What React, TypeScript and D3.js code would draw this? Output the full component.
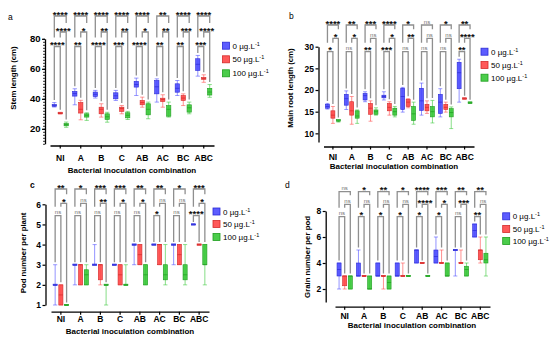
import { useRef, useEffect } from 'react';
import * as d3 from 'd3';

type Stat = [number, number, number, number, number]; // min, q1, median, q3, max

const FONT = '"Liberation Sans", Arial, Helvetica, sans-serif';

const categories = ['NI', 'A', 'B', 'C', 'AB', 'AC', 'BC', 'ABC'];
const doses = ['0', '50', '100'];
const doseColors = ['#4b4bff', '#ff4747', '#37c837'];
const doseDark = ['#2b2bd6', '#d42a2a', '#1f9e1f'];

// a: stem length (cm)
const stem0: Stat[] = [
  [34.5, 35, 35.6, 36.2, 37.5],
  [36, 41.8, 43.5, 44.9, 46.7],
  [40.5, 41.5, 43, 44.5, 45.6],
  [38.9, 40, 42, 44, 45.6],
  [42.2, 47.8, 49.5, 51.6, 53.8],
  [37.8, 43.3, 48, 52.2, 53.3],
  [42.2, 44.4, 47, 50, 52.2],
  [55.1, 58.9, 63, 66.7, 68.9],
];
const stem50: Stat[] = [
  [29.8, 30, 30.2, 30.5, 31],
  [26, 30.5, 33, 37.5, 39],
  [27.8, 30, 33, 34.4, 36.7],
  [30, 31.6, 33.5, 34.4, 35.5],
  [34.4, 36, 37.5, 38.9, 41.1],
  [34.4, 38.2, 39.5, 40.4, 42.7],
  [35.5, 38.9, 40.5, 42.2, 43.3],
  [51, 53, 53.6, 54.2, 56],
];
const stem100: Stat[] = [
  [21, 22, 22.8, 23.5, 24.5],
  [25.6, 27.8, 29, 30, 30.7],
  [24.4, 26.2, 28, 30, 31],
  [26.2, 27.3, 29, 30.7, 31.6],
  [26.7, 29.3, 33, 36.7, 37.8],
  [27.8, 28.4, 33, 35.5, 37.8],
  [30, 31.1, 34, 36, 37.8],
  [41, 42.5, 44.5, 47, 49.5],
];
const stemSig0v100 = ['****', '****', '****', '****', '****', '**', '****', '****'];
const stemSig50v100 = ['****', '*', '**', '**', '*', '**', '***', '****'];
const stemSig0v50 = ['****', '**', '****', '***', '****', '**', '**', '***'];

// b: main root length (cm)
const root0: Stat[] = [
  [15.6, 15.8, 16.2, 16.7, 16.9],
  [15.5, 16.5, 18, 19, 19.8],
  [17.3, 17.7, 18.7, 19.2, 19.6],
  [17.7, 18.2, 18.5, 18.8, 19.6],
  [14.9, 15.5, 18.5, 20.4, 20.6],
  [14.2, 15.3, 17.5, 20.4, 21.6],
  [13.8, 14.6, 17.2, 19, 20.3],
  [17.2, 20.3, 24, 26.4, 27.1],
];
const root50: Stat[] = [
  [12.3, 13.5, 14.2, 15.2, 16.2],
  [12.1, 14.2, 15.2, 17.3, 18.5],
  [12.8, 14.4, 15.8, 16.9, 17.5],
  [14.2, 15.2, 16, 16.9, 17.3],
  [15.9, 16.2, 17.2, 17.8, 18],
  [14.6, 15.2, 16, 16.7, 17.5],
  [14.9, 15.5, 16, 16.7, 17.2],
  [17.9, 17.95, 18, 18.05, 18.1],
];
const root100: Stat[] = [
  [12.6, 12.7, 12.8, 13, 13.1],
  [12.3, 13.5, 14, 15.2, 15.4],
  [14.2, 14.4, 15, 15.4, 15.9],
  [13.8, 14.2, 15, 15.8, 16.2],
  [12.1, 13, 14.5, 16.2, 17.2],
  [12.4, 13.8, 15, 16.2, 17.6],
  [11.1, 13.8, 14.8, 15.7, 16.1],
  [16.9, 17, 17.05, 17.1, 17.2],
];
const rootSig0v100 = ['****', '**', '***', '****', '*', 'ns', '*', '**'];
const rootSig50v100 = ['*', '*', 'ns', '*', '**', 'ns', 'ns', '****'];
const rootSig0v50 = ['*', 'ns', '**', '***', 'ns', 'ns', 'ns', '**'];

// c: pod number per plant
const pod0: Stat[] = [
  [1, 2, 2, 2, 3],
  [2, 3, 3, 3, 3],
  [3, 3, 3, 3, 4],
  [3, 3, 3, 3, 3],
  [3, 4, 4, 4, 4],
  [4, 4, 4, 4, 4],
  [3, 4, 4, 4, 4],
  [5, 5, 5, 5, 5],
];
const pod50: Stat[] = [
  [1, 1, 1.5, 2, 2],
  [2, 2, 3, 3, 3],
  [2, 2.25, 3, 3, 3],
  [2, 2, 2.5, 3, 3],
  [3, 3, 3.5, 4, 4],
  [3, 3, 4, 4, 4],
  [3, 3, 3.5, 4, 4],
  [4, 4, 4, 4, 4],
];
const pod100: Stat[] = [
  [1, 1, 1, 1, 1],
  [2, 2, 2.5, 2.75, 3],
  [1, 2, 2, 2, 2],
  [2, 2, 2, 2, 3],
  [2, 2, 2.5, 3, 3],
  [2, 2.25, 2.5, 3, 4],
  [2, 2.25, 2.5, 3, 4],
  [2, 3, 3, 4, 4],
];
const podSig0v100 = ['**', '*', '***', '***', '**', '**', '*', '***'];
const podSig50v100 = ['*', 'ns', '**', '*', '*', 'ns', 'ns', '*'];
const podSig0v50 = ['ns', 'ns', 'ns', 'ns', 'ns', '*', 'ns', '****'];

// d: grain number per pod
const grain0: Stat[] = [
  [2, 3, 3.5, 4, 4],
  [3, 3, 3, 4, 5],
  [3, 3, 3, 4, 4],
  [3, 3, 3, 4, 4],
  [4, 4, 5, 5, 5],
  [4, 4, 4.5, 5, 6],
  [3, 5, 5, 5, 5],
  [6, 6, 6.5, 7, 7],
];
const grain50: Stat[] = [
  [2, 2.25, 3, 3, 3],
  [3, 3, 3, 3, 3],
  [2, 3, 3, 3, 3],
  [3, 3, 3, 3, 4],
  [4, 4, 4, 4, 4],
  [4, 4, 4, 4, 5],
  [4, 4, 4, 4, 5],
  [4, 4.25, 5, 5, 6],
];
const grain100: Stat[] = [
  [2, 2, 3, 3, 3],
  [2, 2, 2, 3, 3],
  [2, 2, 2.5, 3, 3],
  [3, 3, 3, 3, 3],
  [3, 3, 3, 3, 3],
  [3, 3, 3, 4, 4],
  [3, 3, 3.5, 3.75, 4],
  [3, 4, 4.25, 4.75, 6],
];
const grainSig0v100 = ['ns', '*', '**', '*', '****', '***', '**', '**'];
const grainSig50v100 = ['ns', 'ns', 'ns', 'ns', '****', '*', '***', 'ns'];
const grainSig0v50 = ['ns', '*', '*', '*', '*', '*', 'ns', '**'];

const xTitle = 'Bacterial inoculation combination';

interface PanelSpec {
  letter: string;
  letterPos: [number, number];
  yTitle: string;
  yTitlePos: [number, number];
  stats: Stat[][];
  sig: string[][];
  domain: [number, number];
  ticks: number[];
  minor?: number[];
  axisX: number;
  yTop: number;
  yBottom: number;
  baseY: number;
  x0: number;
  x1: number;
  catY: number;
  xTitlePos: [number, number];
  levels: [number, number, number];
  legX: number;
  legY: number[];
  tickFont: number;
}

const panelSpecs: PanelSpec[] = [
  {
    letter: 'a', letterPos: [8, 20],
    yTitle: 'Stem length (cm)', yTitlePos: [16, 78],
    stats: [stem0, stem50, stem100],
    sig: [stemSig0v100, stemSig50v100, stemSig0v50],
    domain: [10, 80], ticks: [20, 40, 60, 80], minor: d3.range(10, 81, 2),
    axisX: 45, yTop: 38.8, yBottom: 143.8,
    baseY: 145.5, x0: 50, x1: 214, catY: 161, xTitlePos: [132, 173],
    levels: [16, 32, 46.5],
    legX: 222.5, legY: [45.7, 59.3, 73.3], tickFont: 9.5,
  },
  {
    letter: 'b', letterPos: [289, 19],
    yTitle: 'Main root length (cm)', yTitlePos: [293, 88],
    stats: [root0, root50, root100],
    sig: [rootSig0v100, rootSig50v100, rootSig0v50],
    domain: [8, 30], ticks: [10, 15, 20, 25, 30],
    axisX: 318.5, yTop: 46.7, yBottom: 142,
    baseY: 146.5, x0: 323.5, x1: 474, catY: 159.5, xTitlePos: [394, 168.5],
    levels: [25, 38.3, 51.7],
    legX: 481, legY: [51.7, 65, 77.7], tickFont: 8.5,
  },
  {
    letter: 'c', letterPos: [30, 188],
    yTitle: 'Pod number per plant', yTitlePos: [25.5, 253],
    stats: [pod0, pod50, pod100],
    sig: [podSig0v100, podSig50v100, podSig0v50],
    domain: [1, 6], ticks: [1, 2, 3, 4, 5, 6],
    axisX: 45.5, yTop: 204.3, yBottom: 305,
    baseY: 311.7, x0: 51, x1: 209, catY: 321.5, xTitlePos: [130, 333.5],
    levels: [189, 203.3, 215.7],
    legX: 213, legY: [211.5, 224, 237], tickFont: 8.5,
  },
  {
    letter: 'd', letterPos: [285, 188],
    yTitle: 'Grain number per pod', yTitlePos: [309.5, 257],
    stats: [grain0, grain50, grain100],
    sig: [grainSig0v100, grainSig50v100, grainSig0v50],
    domain: [1, 8], ticks: [2, 4, 6, 8],
    axisX: 325.7, yTop: 211, yBottom: 302,
    baseY: 306.7, x0: 335, x1: 490, catY: 319, xTitlePos: [412, 328],
    levels: [191.7, 204.3, 216.7],
    legX: 502.7, legY: [216.3, 229, 241], tickFont: 8.5,
  },
];

function drawPanel(svg: d3.Selection<SVGSVGElement, unknown, null, undefined>, p: PanelSpec) {
  const g = svg.append('g').attr('font-family', FONT);

  const y = d3.scaleLinear().domain(p.domain).range([p.yBottom, p.yTop]);
  const x = d3.scaleBand<string>().domain(categories).range([p.x0, p.x1]);
  const bw = x.bandwidth();
  const off = bw * 0.29;
  const boxW = bw * 0.21;
  const cx = (c: string, k: number) => (x(c) ?? 0) + bw / 2 + (k - 1) * off;

  // y 軸
  const yAxis = d3.axisLeft(y).tickValues(p.ticks).tickSize(3).tickSizeOuter(0)
    .tickPadding(1.5).tickFormat(d3.format('d'));
  const ya = g.append('g').attr('transform', `translate(${p.axisX},0)`).call(yAxis);
  ya.attr('font-family', FONT).attr('font-size', p.tickFont).attr('font-weight', 'bold');
  ya.selectAll('line').attr('stroke-width', 1.2);
  ya.select('.domain').attr('stroke-width', 1.3);
  if (p.minor) {
    const ym = g.append('g').attr('transform', `translate(${p.axisX},0)`)
      .call(d3.axisLeft(y).tickValues(p.minor).tickSize(2).tickSizeOuter(0).tickFormat(() => ''));
    ym.select('.domain').remove();
    ym.selectAll('line').attr('stroke-width', 0.8);
  }

  // x 軸
  const xa = g.append('g').attr('transform', `translate(0,${p.baseY})`)
    .call(d3.axisBottom(x).tickSize(3).tickSizeOuter(0).tickFormat(() => ''));
  xa.select('.domain').attr('stroke-width', 1.3);
  xa.selectAll('line').attr('stroke-width', 1.2);

  categories.forEach((c) => {
    g.append('text')
      .attr('x', cx(c, 1))
      .attr('y', p.catY)
      .attr('text-anchor', 'middle')
      .attr('font-size', 8.5)
      .attr('font-weight', 'bold')
      .text(c);
  });

  g.append('text')
    .attr('x', p.xTitlePos[0]).attr('y', p.xTitlePos[1])
    .attr('text-anchor', 'middle').attr('font-size', 8).attr('font-weight', 'bold')
    .text(xTitle);

  g.append('text')
    .attr('transform', `translate(${p.yTitlePos[0]},${p.yTitlePos[1]}) rotate(-90)`)
    .attr('text-anchor', 'middle').attr('font-size', 7.8).attr('font-weight', 'bold')
    .text(p.yTitle);

  g.append('text')
    .attr('x', p.letterPos[0]).attr('y', p.letterPos[1])
    .attr('font-size', 8.5).attr('font-weight', p.letter === 'c' ? 'bold' : 'normal')
    .text(p.letter);

  // 箱形圖
  p.stats.forEach((series, k) => {
    series.forEach((s, i) => {
      const c = categories[i];
      const xc = cx(c, k);
      const [mn, q1, md, q3, mx] = s;
      const col = doseColors[k];
      g.append('line')
        .attr('x1', xc).attr('x2', xc).attr('y1', y(mn)).attr('y2', y(mx))
        .attr('stroke', col).attr('stroke-opacity', 0.6).attr('stroke-width', 1);
      [mn, mx].forEach((v) => {
        g.append('line')
          .attr('x1', xc - boxW / 2).attr('x2', xc + boxW / 2).attr('y1', y(v)).attr('y2', y(v))
          .attr('stroke', col).attr('stroke-opacity', 0.7).attr('stroke-width', 0.8);
      });
      const top = y(q3);
      const h = Math.max(y(q1) - y(q3), 1.4);
      g.append('rect')
        .attr('x', xc - boxW / 2).attr('y', h === 1.4 ? top - 0.7 : top)
        .attr('width', boxW).attr('height', h)
        .attr('fill', col).attr('fill-opacity', 0.9)
        .attr('stroke', doseDark[k]).attr('stroke-width', 0.6);
      g.append('line')
        .attr('x1', xc - boxW / 2).attr('x2', xc + boxW / 2).attr('y1', y(md)).attr('y2', y(md))
        .attr('stroke', doseDark[k]).attr('stroke-width', 0.7);
    });
  });

  // 顯著性括號
  const [topL, midL, lowL] = p.levels;
  const gap = 2.5;
  const bracket = (xa: number, xb: number, yl: number, legA: number, legB: number, label: string) => {
    g.append('path')
      .attr('d', `M${xa},${legA}V${yl}H${xb}V${legB}`)
      .attr('fill', 'none')
      .attr('stroke', '#8f8f8f')
      .attr('stroke-width', 1.3);
    const ns = label === 'ns';
    g.append('text')
      .attr('x', (xa + xb) / 2)
      .attr('y', ns ? yl - 1.5 : yl + 1.5)
      .attr('text-anchor', 'middle')
      .attr('font-size', ns ? 6 : 9.5)
      .attr('font-weight', ns ? 'normal' : 'bold')
      .attr('fill', ns ? '#6f6f6f' : '#111')
      .text(label);
  };

  categories.forEach((c, i) => {
    const xb = cx(c, 0), xr = cx(c, 1), xg = cx(c, 2);
    const top0 = y(p.stats[0][i][4]) - gap;
    const top1 = y(p.stats[1][i][4]) - gap;
    const top2 = y(p.stats[2][i][4]) - gap;
    bracket(xb, xr, lowL, top0, top1, p.sig[2][i]);
    bracket(xr, xg, midL, lowL - 9, top2, p.sig[1][i]);
    bracket(xb, xg, topL, lowL - 9, midL - 9, p.sig[0][i]);
  });

  // 圖例
  doses.forEach((d, k) => {
    g.append('rect')
      .attr('x', p.legX).attr('y', p.legY[k] - 3.5)
      .attr('width', 7).attr('height', 7)
      .attr('fill', doseColors[k]).attr('fill-opacity', 0.9)
      .attr('stroke', doseDark[k]).attr('stroke-width', 0.8);
    const t = g.append('text')
      .attr('x', p.legX + 10).attr('y', p.legY[k] + 3)
      .attr('font-size', 8);
    t.append('tspan').text(`${d} µg.L`);
    t.append('tspan').attr('dy', -3).attr('font-size', 5.5).text('-1');
  });
}

export default function App() {
  const svgRef = useRef<SVGSVGElement | null>(null);

  useEffect(() => {
    const svg = d3.select(svgRef.current as SVGSVGElement);
    svg.selectAll('*').remove();
    panelSpecs.forEach((p) => drawPanel(svg, p));
  }, []);

  return (
    <svg
      ref={svgRef}
      width={550}
      height={340}
      style={{ position: 'absolute', left: 0, top: 0, background: '#fff' }}
    />
  );
}
